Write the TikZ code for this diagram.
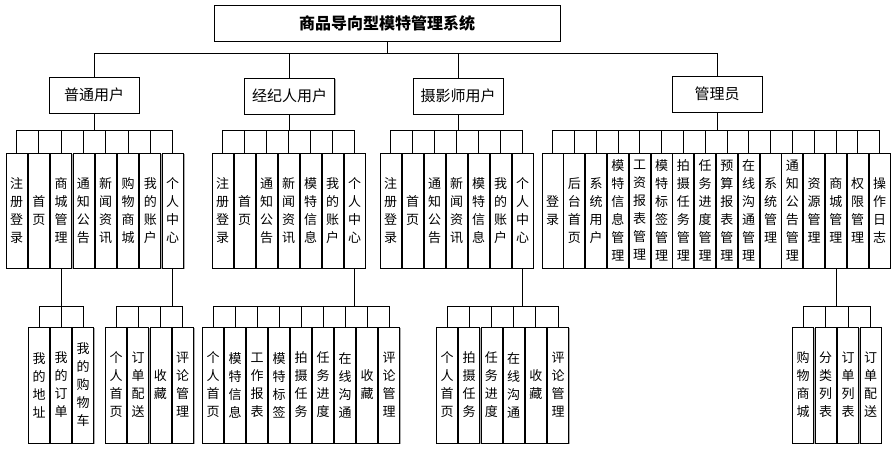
\documentclass[tikz,border=0pt]{standalone}
\usepackage{fontspec}
\setmainfont{Noto Sans CJK SC}
\usetikzlibrary{shadows}
\begin{document}
\begin{tikzpicture}[x=1pt,y=-1pt,
  conn/.style={draw=black, line width=0.7pt},
  shad/.style={drop shadow={shadow xshift=1.4pt, shadow yshift=-0.8pt, fill=gray!65, opacity=1}},
  vbox/.style={draw, line width=0.8pt, fill=white, shad, minimum width=21pt, minimum height=115pt, inner sep=0pt, align=center, font=\fontsize{13}{18}\selectfont},
  lbox/.style={draw, line width=0.8pt, fill=white, shad, minimum width=21pt, minimum height=116pt, inner sep=0pt, align=center, font=\fontsize{13}{18}\selectfont},
  rbox/.style={draw, line width=0.8pt, fill=white, shad, minimum width=90pt, minimum height=36pt, inner sep=0pt, font=\fontsize{15}{18}\selectfont},
  tbox/.style={draw, line width=0.8pt, fill=white, shad, minimum width=346pt, minimum height=36pt, inner sep=0pt, font=\fontsize{16}{18}\selectfont\bfseries}]
\useasboundingbox (0,0) rectangle (896,448);
\fill[white] (0,0) rectangle (896,448);
\coordinate (bus0) at (0,53);
\coordinate (bus1) at (0,130);
\coordinate (bus2) at (0,306);

\node[tbox] (top) at (387,23) {商品导向型模特管理系统};
\node[rbox] (u1) at (94,95) {普通用户};
\node[rbox] (u2) at (289.5,96) {经纪人用户};
\node[rbox] (u3) at (458,96) {摄影师用户};
\node[rbox] (u4) at (717,94) {管理员};
\foreach \u in {u1,u2,u3,u4}{
  \draw[conn] (top.south) -- (top.south |- bus0) -| (\u.north);
}

% group 1
\foreach \t [count=\i from 0] in {注\\册\\登\\录,首\\页,商\\城\\管\\理,通\\知\\公\\告,新\\闻\\资\\讯,购\\物\\商\\城,我\\的\\账\\户,个\\人\\中\\心}{
  \node[vbox] (a\i) at (16.5+22.3*\i,210.5) {\t};
  \draw[conn] (u1.south) -- (u1.south |- bus1) -| (a\i.north);
}
% group 2
\foreach \t [count=\i from 0] in {注\\册\\登\\录,首\\页,通\\知\\公\\告,新\\闻\\资\\讯,模\\特\\信\\息,我\\的\\账\\户,个\\人\\中\\心}{
  \node[vbox] (b\i) at (222.5+22*\i,210.5) {\t};
  \draw[conn] (u2.south) -- (u2.south |- bus1) -| (b\i.north);
}
% group 3
\foreach \t [count=\i from 0] in {注\\册\\登\\录,首\\页,通\\知\\公\\告,新\\闻\\资\\讯,模\\特\\信\\息,我\\的\\账\\户,个\\人\\中\\心}{
  \node[vbox] (c\i) at (390.5+22*\i,210.5) {\t};
  \draw[conn] (u3.south) -- (u3.south |- bus1) -| (c\i.north);
}
% group 4
\foreach \t [count=\i from 0] in {登\\录,后\\台\\首\\页,系\\统\\用\\户,模\\特\\信\\息\\管\\理,工\\资\\报\\表\\管\\理,模\\特\\标\\签\\管\\理,拍\\摄\\任\\务\\管\\理,任\\务\\进\\度\\管\\理,预\\算\\报\\表\\管\\理,在\\线\\沟\\通\\管\\理,系\\统\\管\\理,通\\知\\公\\告\\管\\理,资\\源\\管\\理,商\\城\\管\\理,权\\限\\管\\理,操\\作\\日\\志}{
  \node[vbox] (d\i) at (552.5+21.8*\i,210.5) {\t};
  \draw[conn] (u4.south) -- (u4.south |- bus1) -| (d\i.north);
}

% level 3
\foreach \t [count=\i from 0] in {我\\的\\地\\址,我\\的\\订\\单,我\\的\\购\\物\\车}{
  \node[lbox] (e\i) at (39+22*\i,385) {\t};
  \draw[conn] (a2.south) -- (a2.south |- bus2) -| (e\i.north);
}
\foreach \t [count=\i from 0] in {个\\人\\首\\页,订\\单\\配\\送,收\\藏,评\\论\\管\\理}{
  \node[lbox] (f\i) at (116+22.2*\i,385) {\t};
  \draw[conn] (a7.south) -- (a7.south |- bus2) -| (f\i.north);
}
\foreach \t [count=\i from 0] in {个\\人\\首\\页,模\\特\\信\\息,工\\作\\报\\表,模\\特\\标\\签,拍\\摄\\任\\务,任\\务\\进\\度,在\\线\\沟\\通,收\\藏,评\\论\\管\\理}{
  \node[lbox] (g\i) at (213+22*\i,385) {\t};
  \draw[conn] (b6.south) -- (b6.south |- bus2) -| (g\i.north);
}
\foreach \t [count=\i from 0] in {个\\人\\首\\页,拍\\摄\\任\\务,任\\务\\进\\度,在\\线\\沟\\通,收\\藏,评\\论\\管\\理}{
  \node[lbox] (h\i) at (447+22.2*\i,385) {\t};
  \draw[conn] (c6.south) -- (c6.south |- bus2) -| (h\i.north);
}
\foreach \t [count=\i from 0] in {购\\物\\商\\城,分\\类\\列\\表,订\\单\\列\\表,订\\单\\配\\送}{
  \node[lbox] (k\i) at (803+22.5*\i,385) {\t};
  \draw[conn] (d13.south) -- (d13.south |- bus2) -| (k\i.north);
}
\end{tikzpicture}
\end{document}
